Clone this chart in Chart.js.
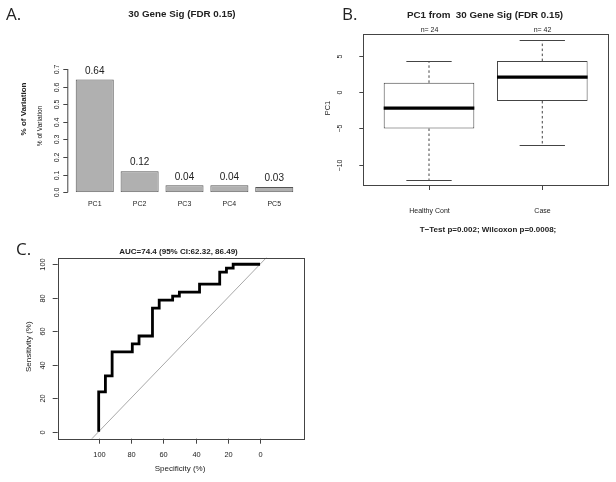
<!DOCTYPE html>
<html><head><meta charset="utf-8">
<script src="https://cdn.jsdelivr.net/npm/chart.js@4/dist/chart.umd.min.js"></script>
<style>
html,body{margin:0;padding:0;background:#fff;}
#wrap{position:relative;width:616px;height:482px;overflow:hidden;background:#fff;}
canvas{position:absolute;left:0;top:0;}
</style></head><body>
<div id="wrap">
<canvas id="cA" width="616" height="482"></canvas>
<canvas id="cB" width="616" height="482"></canvas>
<canvas id="cC" width="616" height="482"></canvas>
</div>
<script>
// ---------- Panel A data ----------
const pcLabels = ["PC1", "PC2", "PC3", "PC4", "PC5"];
const pcVariation = [0.64, 0.12, 0.04, 0.04, 0.03];
const pcTicks = [0.0, 0.1, 0.2, 0.3, 0.4, 0.5, 0.6, 0.7];
// ---------- Panel B data ----------
const groupLabels = ["Healthy Cont", "Case"];
const groupN = [24, 42];
const boxLowerWhisker = [-12.1, -7.3];
const boxQ1 = [-5.0, -1.2];
const boxMedian = [-2.2, 2.1];
const boxQ3 = [1.3, 4.3];
const boxUpperWhisker = [4.3, 7.2];
const pc1Ticks = [-10, -5, 0, 5];
// ---------- Panel C data ----------
const rocSpecificity = [100, 100, 95.83, 95.83, 91.67, 91.67, 79.17, 79.17, 75, 75, 66.67, 66.67, 62.5, 62.5, 54.17, 54.17, 50, 50, 37.5, 37.5, 25, 25, 20.83, 20.83, 16.67, 16.67, 0];
const rocSensitivity = [0, 23.81, 23.81, 33.33, 33.33, 47.62, 47.62, 52.38, 52.38, 57.14, 57.14, 73.81, 73.81, 78.57, 78.57, 80.95, 80.95, 83.33, 83.33, 88.1, 88.1, 95.24, 95.24, 97.62, 97.62, 100, 100];
const rocTicks = [0, 20, 40, 60, 80, 100];

const SANS = '"Liberation Sans", Arial, sans-serif';
const TXT = '#222';
const LINE = '#444';

function text(ctx, t, x, y, font, align, base) {
  ctx.save();
  ctx.font = font; ctx.fillStyle = TXT;
  ctx.textAlign = align || 'center'; ctx.textBaseline = base || 'middle';
  ctx.fillText(t, x, y);
  ctx.restore();
}
function vtext(ctx, t, x, y, font) {
  ctx.save();
  ctx.translate(x, y); ctx.rotate(-Math.PI / 2);
  ctx.font = font; ctx.fillStyle = TXT;
  ctx.textAlign = 'center'; ctx.textBaseline = 'middle';
  ctx.fillText(t, 0, 0);
  ctx.restore();
}
function seg(ctx, x1, y1, x2, y2) {
  ctx.beginPath(); ctx.moveTo(x1, y1); ctx.lineTo(x2, y2); ctx.stroke();
}
function fmtMinus(v) { return String(v).replace('-', '\u2212'); }
const LETTER = '17px "Open Sans", sans-serif';

// ================= Panel A =================
const plugA = {
  id: 'plugA',
  afterDraw(chart) {
    const ctx = chart.ctx, x = chart.scales.x, y = chart.scales.y, ca = chart.chartArea;
    text(ctx, 'A.', 6, 15, LETTER, 'left');
    text(ctx, '30 Gene Sig (FDR 0.15)', 182, 14, 'bold 9.8px ' + SANS);
    // y axis
    const ax = ca.left - 5;
    ctx.save(); ctx.strokeStyle = LINE; ctx.lineWidth = 1;
    seg(ctx, ax + 0.5, y.getPixelForValue(pcTicks[0]), ax + 0.5, y.getPixelForValue(pcTicks[pcTicks.length - 1]));
    pcTicks.forEach(v => {
      const py = Math.round(y.getPixelForValue(v)) + 0.5;
      seg(ctx, ax - 4, py, ax + 0.5, py);
      vtext(ctx, v.toFixed(1), ax - 10.6, py, '7px ' + SANS);
    });
    ctx.restore();
    vtext(ctx, '% of Variation', 24, 109, 'bold 8px ' + SANS);
    vtext(ctx, '% of Variation', 40, 126, '6.6px ' + SANS);
    // category labels
    pcLabels.forEach((l, i) => text(ctx, l, x.getPixelForValue(i), 204, '7px ' + SANS));
    // value labels
    const meta = chart.getDatasetMeta(0);
    meta.data.forEach((bar, i) => text(ctx, pcVariation[i].toFixed(2), bar.x, bar.y - 8.5, '10px ' + SANS));
  }
};
new Chart(document.getElementById('cA'), {
  type: 'bar',
  data: { labels: pcLabels, datasets: [{ data: pcVariation, backgroundColor: '#b0b0b0', borderColor: '#555', borderWidth: 1, borderSkipped: false, barPercentage: 0.848, categoryPercentage: 1 }] },
  options: {
    responsive: false, animation: false,
    layout: { padding: { left: 72.3, right: 319.3, top: 69, bottom: 289.7 } },
    scales: { x: { display: false }, y: { display: false, min: 0, max: 0.7 } },
    plugins: { legend: { display: false }, tooltip: { enabled: false } }
  },
  plugins: [plugA]
});

// ================= Panel B =================
const plugB = {
  id: 'plugB',
  afterDatasetsDraw(chart) {
    const ctx = chart.ctx, x = chart.scales.x, y = chart.scales.y, ca = chart.chartArea;
    const meta = chart.getDatasetMeta(0);
    ctx.save();
    groupLabels.forEach((g, i) => {
      const xc = x.getPixelForValue(i + 1);
      const w = meta.data[i].width;
      ctx.strokeStyle = LINE; ctx.lineWidth = 1;
      ctx.setLineDash([2.5, 2.5]);
      seg(ctx, xc, y.getPixelForValue(boxQ3[i]), xc, y.getPixelForValue(boxUpperWhisker[i]));
      seg(ctx, xc, y.getPixelForValue(boxQ1[i]), xc, y.getPixelForValue(boxLowerWhisker[i]));
      ctx.setLineDash([]);
      const yu = Math.round(y.getPixelForValue(boxUpperWhisker[i])) + 0.5;
      const yl = Math.round(y.getPixelForValue(boxLowerWhisker[i])) + 0.5;
      seg(ctx, xc - w / 4, yu, xc + w / 4, yu);
      seg(ctx, xc - w / 4, yl, xc + w / 4, yl);
      ctx.strokeStyle = '#000'; ctx.lineWidth = 3.2;
      const ym = y.getPixelForValue(boxMedian[i]);
      seg(ctx, xc - w / 2, ym, xc + w / 2, ym);
    });
    ctx.restore();
  },
  afterDraw(chart) {
    const ctx = chart.ctx, x = chart.scales.x, y = chart.scales.y, ca = chart.chartArea;
    ctx.save(); ctx.strokeStyle = LINE; ctx.lineWidth = 1;
    ctx.strokeRect(Math.round(ca.left) + 0.5, Math.round(ca.top) + 0.5, Math.round(ca.right - ca.left), Math.round(ca.bottom - ca.top));
    pc1Ticks.forEach(v => {
      const py = Math.round(y.getPixelForValue(v)) + 0.5;
      seg(ctx, ca.left - 4, py, ca.left, py);
      vtext(ctx, fmtMinus(v), ca.left - 23, py, '7px ' + SANS);
    });
    groupLabels.forEach((g, i) => {
      const px = Math.round(x.getPixelForValue(i + 1)) + 0.5;
      seg(ctx, px, ca.bottom, px, ca.bottom + 5);
      text(ctx, g, px, 211, '7px ' + SANS);
      text(ctx, 'n= ' + groupN[i], px, 30, '7px ' + SANS);
    });
    ctx.restore();
    text(ctx, 'B.', 342, 15, LETTER, 'left');
    text(ctx, 'PC1 from  30 Gene Sig (FDR 0.15)', 485, 15, 'bold 9.8px ' + SANS);
    vtext(ctx, 'PC1', 328, 108, '7.5px ' + SANS);
    text(ctx, 'T\u2212Test p=0.002; Wilcoxon p=0.0008;', 488, 230, 'bold 8px ' + SANS);
  }
};
new Chart(document.getElementById('cB'), {
  type: 'bar',
  data: { datasets: [{ data: groupLabels.map((g, i) => ({ x: i + 1, y: [boxQ1[i], boxQ3[i]] })), backgroundColor: '#fff', borderColor: LINE, borderWidth: 1, borderSkipped: false, barPercentage: 0.8, categoryPercentage: 1 }] },
  options: {
    responsive: false, animation: false,
    layout: { padding: { left: 363.3, right: 8, top: 34.3, bottom: 297 } },
    scales: {
      x: { type: 'linear', display: false, offset: false, min: 0.42, max: 2.58,
           afterBuildTicks: s => { s.ticks = groupLabels.map((g, i) => ({ value: i + 1 })); } },
      y: { display: false, min: -12.8, max: 8.0 }
    },
    plugins: { legend: { display: false }, tooltip: { enabled: false } }
  },
  plugins: [plugB]
});

// ================= Panel C =================
const plugC = {
  id: 'plugC',
  beforeDatasetsDraw(chart) {
    const ctx = chart.ctx, x = chart.scales.x, y = chart.scales.y;
    ctx.save(); ctx.strokeStyle = '#a8a8a8'; ctx.lineWidth = 1;
    seg(ctx, x.getPixelForValue(100 - y.min), y.getPixelForValue(y.min), x.getPixelForValue(100 - y.max), y.getPixelForValue(y.max));
    ctx.restore();
  },
  afterDraw(chart) {
    const ctx = chart.ctx, x = chart.scales.x, y = chart.scales.y, ca = chart.chartArea;
    ctx.save(); ctx.strokeStyle = LINE; ctx.lineWidth = 1;
    ctx.strokeRect(Math.round(ca.left) + 0.5, Math.round(ca.top) + 0.5, Math.round(ca.right - ca.left), Math.round(ca.bottom - ca.top));
    rocTicks.forEach(v => {
      const py = Math.round(y.getPixelForValue(v)) + 0.5;
      seg(ctx, ca.left - 5, py, ca.left, py);
      vtext(ctx, String(v), ca.left - 15, py, '7.4px ' + SANS);
      const px = Math.round(x.getPixelForValue(v)) + 0.5;
      seg(ctx, px, ca.bottom, px, ca.bottom + 5);
      text(ctx, String(v), px, 455, '7.4px ' + SANS);
    });
    ctx.restore();
    text(ctx, 'C.', 16, 250, LETTER, 'left');
    text(ctx, 'AUC=74.4 (95% CI:62.32, 86.49)', 178.5, 252, 'bold 8px ' + SANS);
    vtext(ctx, 'Sensitivity (%)', 28.3, 346.7, '8px ' + SANS);
    text(ctx, 'Specificity (%)', 180, 468.3, '8px ' + SANS);
  }
};
new Chart(document.getElementById('cC'), {
  type: 'scatter',
  data: { datasets: [{ data: rocSpecificity.map((s, i) => ({ x: s, y: rocSensitivity[i] })), showLine: true, borderColor: '#000', borderWidth: 2.8, pointRadius: 0, tension: 0, fill: false }] },
  options: {
    responsive: false, animation: false,
    layout: { padding: { left: 57.7, right: 312.7, top: 257.7, bottom: 43.3 } },
    scales: { x: { type: 'linear', display: false, reverse: true, min: -26.8, max: 125.4 }, y: { type: 'linear', display: false, min: -4.2, max: 103.9 } },
    plugins: { legend: { display: false }, tooltip: { enabled: false } }
  },
  plugins: [plugC]
});
</script>
</body></html>
